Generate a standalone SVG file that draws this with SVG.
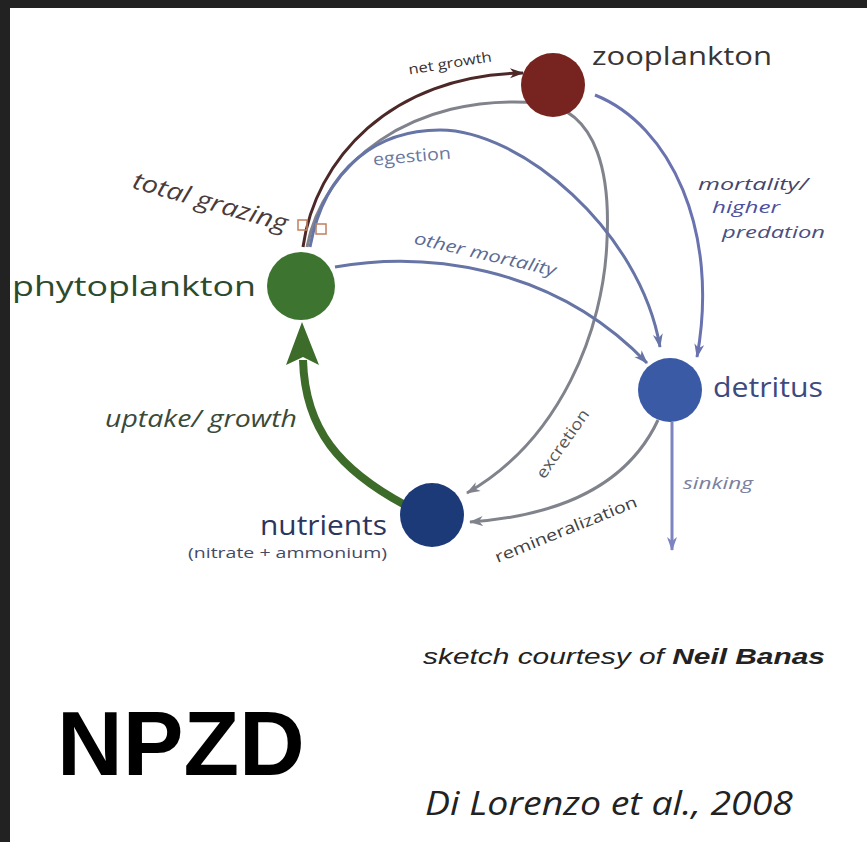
<svg xmlns="http://www.w3.org/2000/svg" width="867" height="842" viewBox="0 0 867 842">
<style>
.lbl{font-family:"Open Sans","DejaVu Sans",sans-serif;}
.it{font-family:"Open Sans","DejaVu Sans",sans-serif;font-style:italic;}
.c{fill:none;stroke-width:3;stroke-linecap:butt;}
.gray{stroke:#80838c;}
.blue{stroke:#6674a6;}
.mort{stroke:#6a72b0;}
</style>
<defs>
<marker id="ah-gray" markerUnits="userSpaceOnUse" markerWidth="16" markerHeight="12" refX="13" refY="5" orient="auto"><path d="M0,0 L14,5 L0,10 L4,5 Z" fill="#80838c"/></marker>
<marker id="ah-blue" markerUnits="userSpaceOnUse" markerWidth="16" markerHeight="12" refX="13" refY="5" orient="auto"><path d="M0,0 L14,5 L0,10 L4,5 Z" fill="#6674a6"/></marker>
<marker id="ah-mort" markerUnits="userSpaceOnUse" markerWidth="16" markerHeight="12" refX="13" refY="5" orient="auto"><path d="M0,0 L14,5 L0,10 L4,5 Z" fill="#6a72b0"/></marker>
<marker id="ah-brown" markerUnits="userSpaceOnUse" markerWidth="16" markerHeight="12" refX="13" refY="5" orient="auto"><path d="M0,0 L14,5 L0,10 L4,5 Z" fill="#4d2828"/></marker>
<marker id="ah-sink" markerUnits="userSpaceOnUse" markerWidth="16" markerHeight="12" refX="13" refY="5" orient="auto"><path d="M0,0 L14,5 L0,10 L4,5 Z" fill="#7d85c0"/></marker>
</defs>
<rect x="0" y="0" width="867" height="842" fill="#222222"/>
<rect x="10" y="8" width="857" height="834" fill="#ffffff"/>

<g id="connectors">
  <path id="excretion" class="c gray" d="M307,247 C322,165 410,92 540,103 C600,110 610,180 607,240 C604,330 560,440 467,493" marker-end="url(#ah-gray)"/>
  <path id="egestion" class="c blue" d="M310,247 C325,165 380,130 440,130 C520,130 640,230 660,347" marker-end="url(#ah-blue)"/>
  <path id="net-growth" class="c" stroke="#4d2828" stroke-width="3.5" d="M303,247 C315,160 390,75 523,73" marker-end="url(#ah-brown)"/>
  <path id="other-mortality" class="c blue" d="M335,267 C420,252 550,262 647,363" marker-end="url(#ah-blue)"/>
  <path id="mortality" class="c mort" d="M595,95 C670,125 720,230 697,357" marker-end="url(#ah-mort)"/>
  <path id="remineralization" class="c gray" d="M658,420 C630,480 570,515 470,522" marker-end="url(#ah-gray)"/>
  <path id="sinking" class="c" stroke="#7d85c0" d="M672,422 L672,550" marker-end="url(#ah-sink)"/>
  <path id="uptake" fill="none" stroke="#3d6b2a" stroke-width="8" d="M405,505 C340,470 305,430 303,360"/>
  <path id="uptake-head" fill="#3d6b2a" d="M302,322 L319,365 L303,357 L286,365 Z"/>
  <g id="grazing-marks" fill="none" stroke="#c0805e" stroke-width="1.5">
    <rect x="298" y="220" width="9" height="10"/>
    <rect x="316" y="224" width="10" height="10"/>
  </g>
</g>

<g id="zooplankton">
  <circle cx="553" cy="85" r="32" fill="#77231f"/>
  <text class="lbl" x="592" y="65" font-size="26" fill="#3a3535" textLength="180" lengthAdjust="spacingAndGlyphs">zooplankton</text>
</g>
<g id="phytoplankton">
  <circle cx="301" cy="286" r="34" fill="#3d7530"/>
  <text class="lbl" x="12" y="296" font-size="27" fill="#2e4a2e" textLength="244" lengthAdjust="spacingAndGlyphs">phytoplankton</text>
</g>
<g id="detritus">
  <circle cx="670" cy="390" r="32" fill="#3a5aa5"/>
  <text class="lbl" x="713" y="397" font-size="27" fill="#3d4a80" textLength="110" lengthAdjust="spacingAndGlyphs">detritus</text>
</g>
<g id="nutrients">
  <circle cx="432" cy="515" r="32" fill="#1c3a78"/>
  <text class="lbl" x="387" y="535" font-size="27" fill="#2a3660" text-anchor="end" textLength="127" lengthAdjust="spacingAndGlyphs">nutrients</text>
  <text class="lbl" x="387" y="558" font-size="14" fill="#444a66" text-anchor="end" textLength="199" lengthAdjust="spacingAndGlyphs">(nitrate + ammonium)</text>
</g>

<g id="labels">
  <text class="lbl" transform="translate(450,63) rotate(-9)" x="0" y="5" font-size="14" fill="#3a3030" text-anchor="middle" textLength="84" lengthAdjust="spacingAndGlyphs">net growth</text>
  <text class="lbl" transform="translate(412,157) rotate(-5)" x="0" y="5" font-size="17" fill="#6a78a0" text-anchor="middle" textLength="78" lengthAdjust="spacingAndGlyphs">egestion</text>
  <text class="it" transform="translate(210,203) rotate(16)" x="0" y="7" font-size="24" fill="#4a3a3a" text-anchor="middle" textLength="160" lengthAdjust="spacingAndGlyphs">total grazing</text>
  <text class="it" transform="translate(485,255) rotate(13)" x="0" y="5" font-size="17" fill="#5a6a95" text-anchor="middle" textLength="145" lengthAdjust="spacingAndGlyphs">other mortality</text>
  <text class="it" x="698" y="190" font-size="16" fill="#44466a" textLength="110" lengthAdjust="spacingAndGlyphs">mortality/</text>
  <text class="it" x="712" y="213" font-size="16" fill="#4a50a0" textLength="68" lengthAdjust="spacingAndGlyphs">higher</text>
  <text class="it" x="722" y="238" font-size="16" fill="#4a5080" textLength="103" lengthAdjust="spacingAndGlyphs">predation</text>
  <text class="it" x="683" y="489" font-size="17" fill="#7a80a0" textLength="70" lengthAdjust="spacingAndGlyphs">sinking</text>
  <text class="lbl" transform="translate(563,444) rotate(-55)" x="0" y="5" font-size="16" fill="#555555" text-anchor="middle" textLength="80" lengthAdjust="spacingAndGlyphs">excretion</text>
  <text class="lbl" transform="translate(566,530) rotate(-22)" x="0" y="5" font-size="16" fill="#404040" text-anchor="middle" textLength="152" lengthAdjust="spacingAndGlyphs">remineralization</text>
  <text class="it" x="105" y="427" font-size="23" fill="#3a4a3a" textLength="192" lengthAdjust="spacingAndGlyphs">uptake/ growth</text>
</g>

<g id="captions">
  <text x="423" y="664" font-family="'Liberation Sans',Arial,sans-serif" font-style="italic" font-size="22" fill="#222222" textLength="402" lengthAdjust="spacingAndGlyphs">sketch courtesy of <tspan font-weight="bold">Neil Banas</tspan></text>
  <text x="57" y="775" font-family="'Liberation Sans',Arial,sans-serif" font-weight="bold" font-size="91" fill="#000000">NPZD</text>
  <text x="425" y="815" font-family="'Open Sans','DejaVu Sans',sans-serif" font-style="italic" font-size="32" fill="#222222" textLength="368" lengthAdjust="spacingAndGlyphs">Di Lorenzo et al., 2008</text>
</g>
</svg>
